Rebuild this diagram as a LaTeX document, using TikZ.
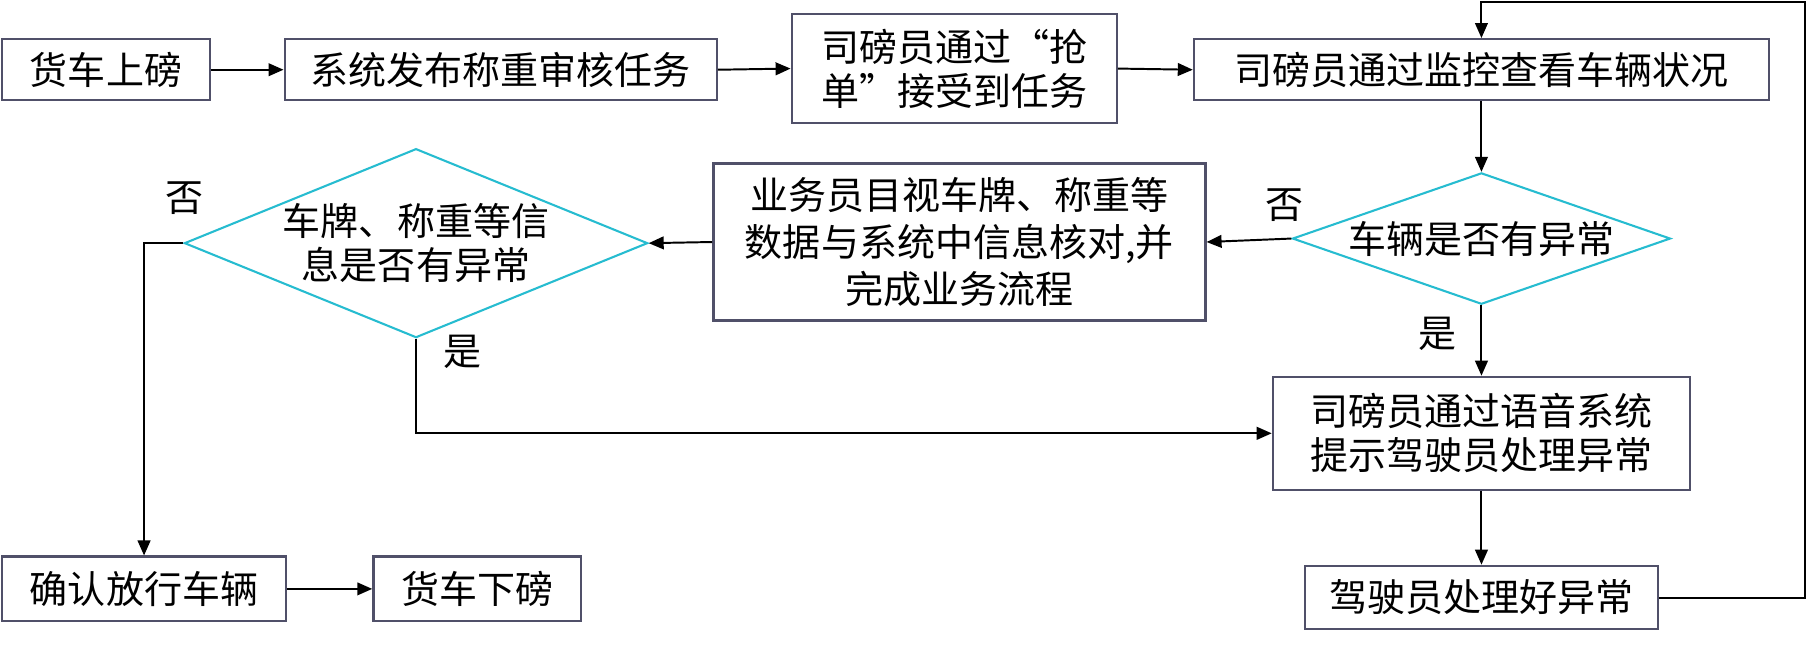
\documentclass[tikz,border=0pt]{standalone}
\usepackage{fontspec}
\setmainfont{Noto Sans CJK SC}
\usetikzlibrary{shapes.geometric,arrows.meta}
\definecolor{boxc}{RGB}{80,80,105}
\definecolor{diac}{RGB}{38,188,208}
\begin{document}
\begin{tikzpicture}[x=1pt,y=-1pt,
  box/.style={draw=boxc, line width=2pt, inner sep=0pt, font=\fontsize{33}{38}\selectfont, align=center},
  dia/.style={diamond, draw=diac, line width=1.8pt, inner sep=0pt, font=\fontsize{33}{38}\selectfont, align=center},
  arr/.style={-{Triangle[length=13pt,width=11pt]}, line width=1.7pt},
  lbl/.style={font=\fontsize{33}{38}\selectfont, inner sep=0pt}]
\useasboundingbox[fill=white] (0,0) rectangle (1568,560);
\node[box, minimum width=180pt, minimum height=53pt] (b1) at (92,60.5) {货车上磅};
\node[box, minimum width=375pt, minimum height=53pt] (b2) at (434.5,60.5) {系统发布称重审核任务};
\node[box, minimum width=282pt, minimum height=95pt] (b3) at (828,59.5) {司磅员通过“抢\\单”接受到任务};
\node[box, minimum width=499pt, minimum height=53pt] (b4) at (1285.5,60.5) {司磅员通过监控查看车辆状况};
\node[dia, aspect=2.88, minimum width=328pt, minimum height=114pt] (d2) at (1285.5,207) {车辆是否有异常};
\node[box, minimum width=427pt, minimum height=136pt, font=\fontsize{33}{41}\selectfont] (b5) at (832.5,210) {业务员目视车牌、称重等\\数据与系统中信息核对,并\\完成业务流程};
\node[dia, aspect=2.45, minimum width=402pt, minimum height=164pt] (d1) at (361,211) {车牌、称重等信\\息是否有异常};
\node[box, minimum width=362pt, minimum height=98pt] (b6) at (1285.5,376) {司磅员通过语音系统\\提示驾驶员处理异常};
\node[box, minimum width=306pt, minimum height=55pt] (b8) at (1285.5,518.5) {驾驶员处理好异常};
\node[box, minimum width=246pt, minimum height=56pt] (b7) at (125,511) {确认放行车辆};
\node[box, minimum width=180pt, minimum height=56pt] (b9) at (414,511) {货车下磅};
\node[lbl] (n2) at (1115,178) {否};
\node[lbl] (n1) at (160,172) {否};
\node[lbl] (y1) at (401,305) {是};
\node[lbl] (y2) at (1247,290) {是};
\coordinate (loopc) at (1566,2);
\draw[arr] (b1.east) -- (b2.west);
\draw[arr] (b2.east) -- (b3.west);
\draw[arr] (b3.east) -- (b4.west);
\draw[arr] (b4.south) -- (d2.north);
\draw[arr] (d2.west) -- (b5.east);
\draw[arr] (b5.west) -- (d1.east);
\draw[arr] (d1.west) -| (b7.north);
\draw[arr] (d1.south) |- (b6.west);
\draw[arr] (d2.south) -- (b6.north);
\draw[arr] (b6.south) -- (b8.north);
\draw[arr] (b7.east) -- (b9.west);
\draw[arr] (b8.east) -| (loopc) -| (b4.north);
\end{tikzpicture}
\end{document}
